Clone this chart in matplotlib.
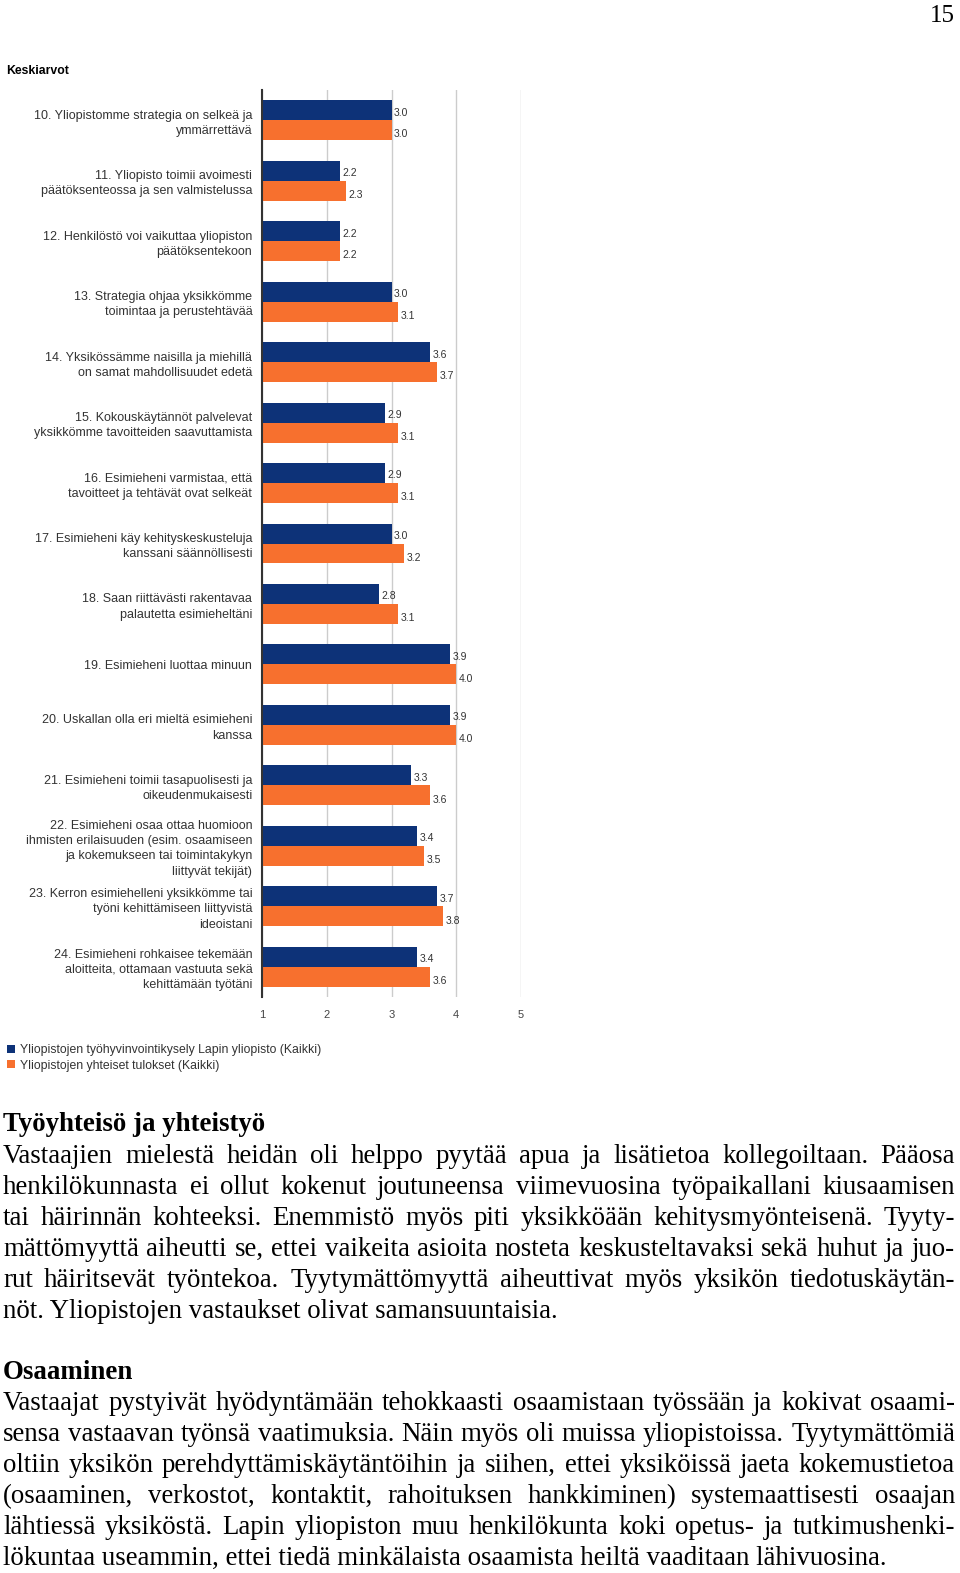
import matplotlib
matplotlib.use('Agg')
import matplotlib.pyplot as plt
import numpy as np

W, H = 960, 1573

questions = [
    "10. Yliopistomme strategia on selkeä ja\nymmärrettävä",
    "11. Yliopisto toimii avoimesti\npäätöksenteossa ja sen valmistelussa",
    "12. Henkilöstö voi vaikuttaa yliopiston\npäätöksentekoon",
    "13. Strategia ohjaa yksikkömme\ntoimintaa ja perustehtävää",
    "14. Yksikössämme naisilla ja miehillä\non samat mahdollisuudet edetä",
    "15. Kokouskäytännöt palvelevat\nyksikkömme tavoitteiden saavuttamista",
    "16. Esimieheni varmistaa, että\ntavoitteet ja tehtävät ovat selkeät",
    "17. Esimieheni käy kehityskeskusteluja\nkanssani säännöllisesti",
    "18. Saan riittävästi rakentavaa\npalautetta esimieheltäni",
    "19. Esimieheni luottaa minuun",
    "20. Uskallan olla eri mieltä esimieheni\nkanssa",
    "21. Esimieheni toimii tasapuolisesti ja\noikeudenmukaisesti",
    "22. Esimieheni osaa ottaa huomioon\nihmisten erilaisuuden (esim. osaamiseen\nja kokemukseen tai toimintakykyn\nliittyvät tekijät)",
    "23. Kerron esimiehelleni yksikkömme tai\ntyöni kehittämiseen liittyvistä\nideoistani",
    "24. Esimieheni rohkaisee tekemään\naloitteita, ottamaan vastuuta sekä\nkehittämään työtäni",
]
lapin = [3.0, 2.2, 2.2, 3.0, 3.6, 2.9, 2.9, 3.0, 2.8, 3.9, 3.9, 3.3, 3.4, 3.7, 3.4]
kaikki = [3.0, 2.3, 2.2, 3.1, 3.7, 3.1, 3.1, 3.2, 3.1, 4.0, 4.0, 3.6, 3.5, 3.8, 3.6]
series_names = ["Yliopistojen työhyvinvointikysely Lapin yliopisto (Kaikki)",
                "Yliopistojen yhteiset tulokset (Kaikki)"]
xticks = [1, 2, 3, 4, 5]

para1_head = "Työyhteisö ja yhteistyö"
para1 = [
    "Vastaajien mielestä heidän oli helppo pyytää apua ja lisätietoa kollegoiltaan. Pääosa",
    "henkilökunnasta ei ollut kokenut joutuneensa viimevuosina työpaikallani kiusaamisen",
    "tai häirinnän kohteeksi. Enemmistö myös piti yksikköään kehitysmyönteisenä. Tyyty-",
    "mättömyyttä aiheutti se, ettei vaikeita asioita nosteta keskusteltavaksi sekä huhut ja juo-",
    "rut häiritsevät työntekoa. Tyytymättömyyttä aiheuttivat myös yksikön tiedotuskäytän-",
    "nöt. Yliopistojen vastaukset olivat samansuuntaisia.",
]
para2_head = "Osaaminen"
para2 = [
    "Vastaajat pystyivät hyödyntämään tehokkaasti osaamistaan työssään ja kokivat osaami-",
    "sensa vastaavan työnsä vaatimuksia. Näin myös oli muissa yliopistoissa. Tyytymättömiä",
    "oltiin yksikön perehdyttämiskäytäntöihin ja siihen, ettei yksiköissä jaeta kokemustietoa",
    "(osaaminen, verkostot, kontaktit, rahoituksen hankkiminen) systemaattisesti osaajan",
    "lähtiessä yksiköstä. Lapin yliopiston muu henkilökunta koki opetus- ja tutkimushenki-",
    "lökuntaa useammin, ettei tiedä minkälaista osaamista heiltä vaaditaan lähivuosina.",
]

BLUE = '#0d3278'
ORANGE = '#f7702e'

plt.rcParams['font.family'] = ['Liberation Sans', 'DejaVu Sans']
fig = plt.figure(figsize=(W / 100, H / 100), dpi=100)

# chart area in pixels
left, right, top, bottom = 262, 521, 90, 997
ax = fig.add_axes([left / W, 1 - bottom / H, (right - left) / W, (bottom - top) / H])

y = np.arange(len(questions))
h = 0.33
b1 = ax.barh(y - h / 2, [v - 1 for v in lapin], height=h, left=1, color=BLUE, zorder=3)
b2 = ax.barh(y + h / 2, [v - 1 for v in kaikki], height=h, left=1, color=ORANGE, zorder=3)
for yi, v in zip(y, lapin):
    ax.text(v + 0.04, yi - h / 2 + 0.04, f"{v:.1f}", va='center', ha='left', fontsize=7.5, color='#333333')
for yi, v in zip(y, kaikki):
    ax.text(v + 0.04, yi + h / 2 + 0.07, f"{v:.1f}", va='center', ha='left', fontsize=7.5, color='#333333')

ax.set_xlim(1, 5)
ax.set_ylim(len(questions) - 0.5, -0.5)
ax.set_xticks(xticks)
ax.set_xticklabels([str(t) for t in xticks], fontsize=8, color='#444444')
ax.set_yticks(y)
ax.set_yticklabels(questions, fontsize=9, color='#333333', linespacing=1.35)
for t in ax.get_yticklabels():
    t.set_multialignment('right')
ax.tick_params(axis='both', length=0)
ax.tick_params(axis='y', pad=7)
ax.tick_params(axis='x', pad=9)
ax.grid(axis='x', color='#cccccc', linewidth=1, zorder=0)
for s in ['top', 'right', 'bottom']:
    ax.spines[s].set_visible(False)
ax.spines['left'].set_color('#333333')
ax.spines['left'].set_linewidth(1.5)
ax.spines['left'].set_zorder(4)

fig.text(6 / W, 1 - 71 / H, "Keskiarvot", fontsize=8.8, fontweight='bold', va='center', ha='left')

fig.legend([b1, b2], series_names, loc='upper left', bbox_to_anchor=(7 / W, 1 - 1044 / H),
           frameon=False, fontsize=8.8, handlelength=0.65, handleheight=0.65,
           handletextpad=0.45, labelspacing=0.3, borderpad=0, borderaxespad=0,
           labelcolor='#333333')

# page text
serif = ['Liberation Serif', 'DejaVu Serif']
fig.text(955 / W, 1 - 22 / H, "15", family=serif, fontsize=18, ha='right', va='baseline')

renderer = fig.canvas.get_renderer()


def text_width(s, size, weight='normal'):
    t = fig.text(0, 0, s, family=serif, fontsize=size, fontweight=weight)
    w = t.get_window_extent(renderer).width
    t.remove()
    return w


# pick body size so the short last line spans like the reference (~554 px)
size = 18 * 554 / text_width(para1[-1], 18)
x0, x1 = 3, 955


def draw_par(head, lines, head_base, first_base):
    fig.text(x0 / W, 1 - head_base / H, head, family=serif, fontsize=size,
             fontweight='bold', va='baseline', ha='left')
    for i, line in enumerate(lines):
        base = first_base + 31 * i
        words = line.split(' ')
        last = i == len(lines) - 1 and not line.endswith('-') and line != lines[0]
        if last:
            fig.text(x0 / W, 1 - base / H, line, family=serif, fontsize=size,
                     va='baseline', ha='left')
            continue
        widths = [text_width(w, size) for w in words]
        gap = (x1 - x0 - sum(widths)) / (len(words) - 1)
        x = x0
        for w, ww in zip(words, widths):
            fig.text(x / W, 1 - base / H, w, family=serif, fontsize=size,
                     va='baseline', ha='left')
            x += ww + gap


draw_par(para1_head, para1, 1131, 1163)
draw_par(para2_head, para2, 1379, 1410)

fig.savefig('out.png', dpi=100)
